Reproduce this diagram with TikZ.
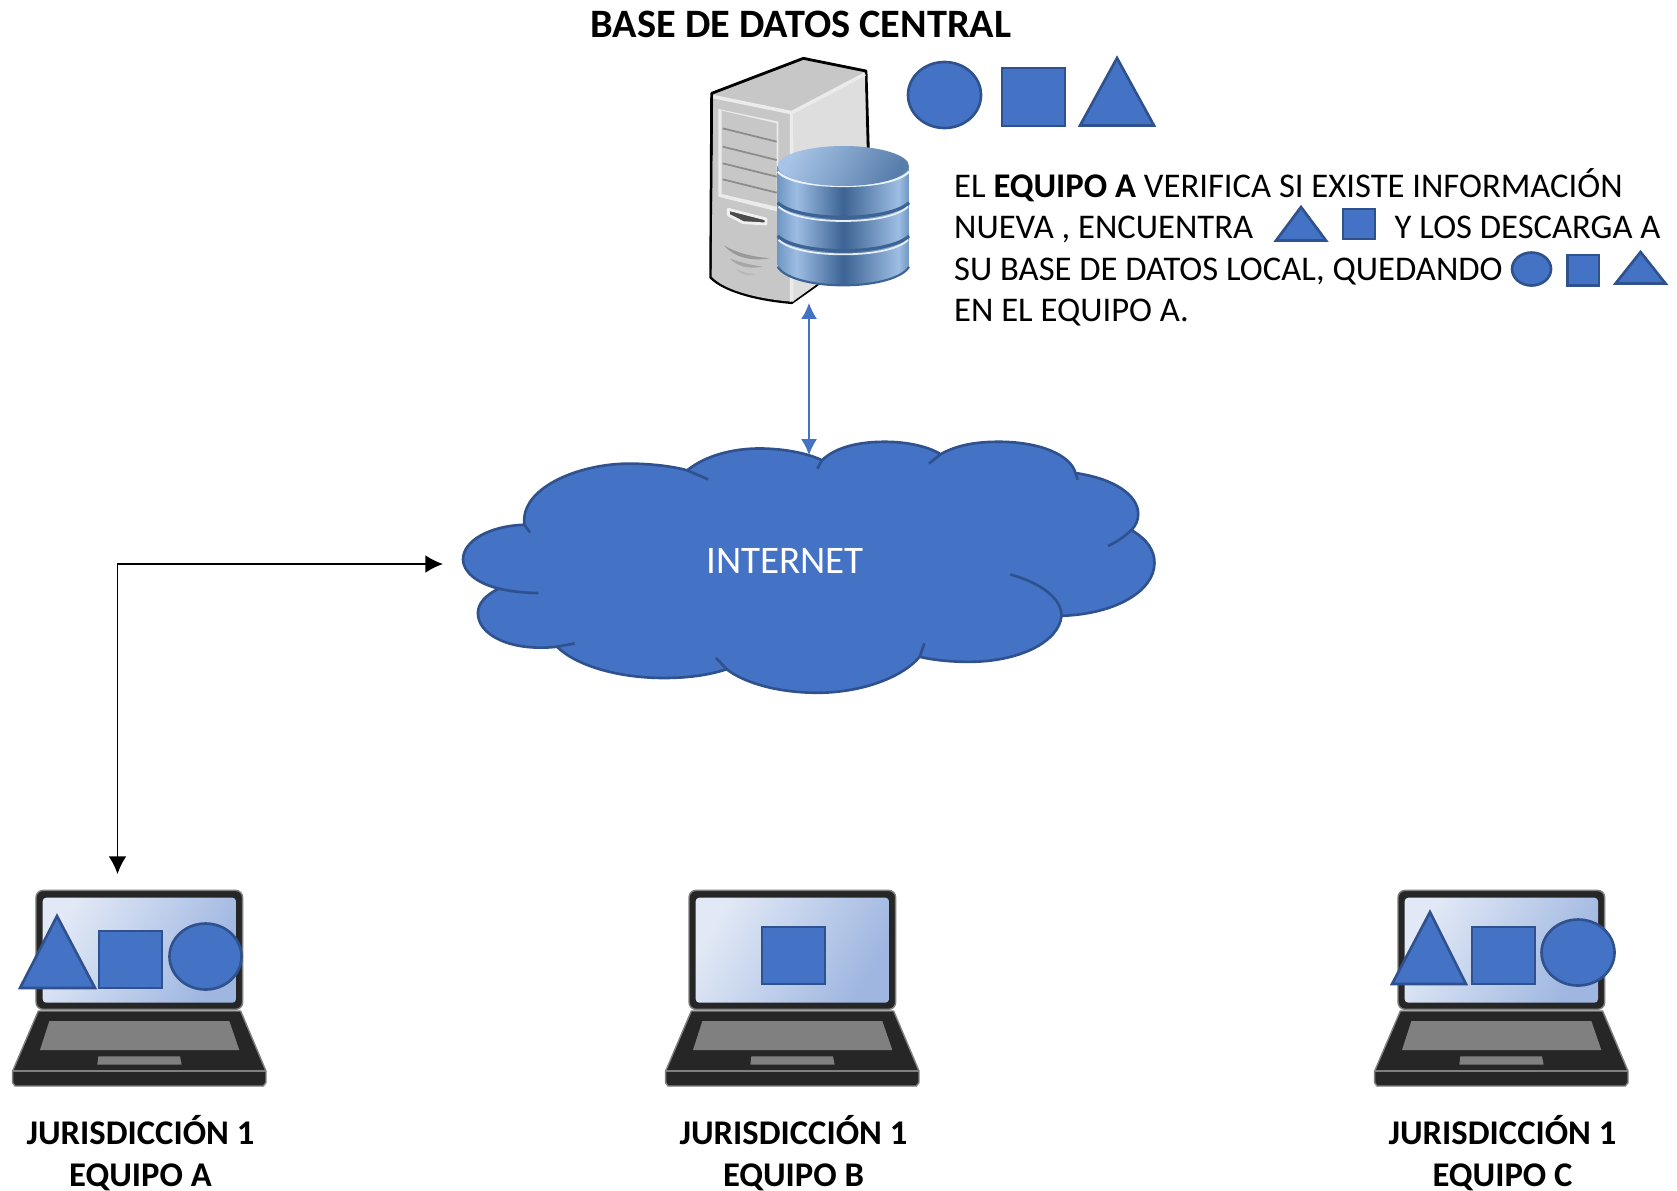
\documentclass[tikz,border=0pt]{standalone}
\usepackage{fontspec}
\usepackage{xcolor}
\usepackage{tikz}
\usetikzlibrary{arrows.meta}
\setmainfont{Carlito}
\definecolor{azulforma}{HTML}{4472C4}
\definecolor{bordeforma}{HTML}{2F528F}
\definecolor{negrolaptop}{HTML}{262626}
\definecolor{discoborde}{HTML}{6F97C3}
\definecolor{discoclaro}{HTML}{9DBDE3}
\definecolor{discooscuro}{HTML}{3C6394}
\pgfdeclarehorizontalshading{discoazul}{100bp}{color(0bp)=(discoborde); color(25bp)=(discoborde); color(32bp)=(discoclaro); color(50bp)=(discooscuro); color(71bp)=(discoclaro); color(75bp)=(discoborde); color(100bp)=(discoborde)}
\tikzset{
	forma/.style={fill=azulforma,draw=bordeforma,line width=0.75pt},
	texto/.style={anchor=base west,inner sep=0pt,font=\fontsize{9.85}{12}\selectfont},
	etiqueta/.style={align=center,inner sep=0pt,font=\fontsize{9.85}{11.9}\selectfont\bfseries},
	laptop/.pic={
		\begin{scope}[scale=0.3333]
			\draw[fill=negrolaptop,draw=gray,line width=0.4pt,rounded corners=2pt] (108,58) rectangle (728,415);
			\shade[left color=azulforma!16,right color=azulforma!52,shading angle=60,rounded corners=1pt] (128,80) rectangle (708,395);
			\draw[fill=negrolaptop,draw=gray,line width=0.4pt,line join=round] (115,420) -- (722,420) -- (798,600) -- (798,635) -- (790,645) -- (45,645) -- (38,635) -- (38,600) -- cycle;
			\draw[gray,line width=0.4pt] (38,600) -- (798,600);
			\fill[gray] (148,450) -- (688,450) -- (718,537) -- (120,537) -- cycle;
			\fill[gray] (295,556) -- (540,556) -- (545,581) -- (292,581) -- cycle;
		\end{scope}
	}
}
\begin{document}
\begin{tikzpicture}[x=0.01cm,y=-0.01cm]
	\useasboundingbox (0,0) rectangle (1677,1190);
	% Servidor
	\begin{scope}[shift={(680,40)},scale=0.3333]
		\draw[fill=black!22,draw=black,line width=0.8pt,line join=round] (95,160) -- (370,55) -- (558,93) -- (565,330) -- (565,600) -- (410,735) -- (335,788) .. controls (220,778) and (130,750) .. (92,712) -- cycle;
		\fill[black!13] (340,218) -- (555,102) -- (562,600) -- (410,733) -- (338,785) -- cycle;
		\fill[black!22] (100,170) -- (330,225) -- (332,785) .. controls (220,775) and (130,748) .. (95,710) -- cycle;
		\fill[black!8] (115,207) -- (295,245) -- (295,515) -- (115,470) -- cycle;
		\fill[black!22] (125,212) -- (290,250) -- (290,500) -- (125,462) -- cycle;
		\draw[black!8,line width=1pt] (100,170) -- (335,218) -- (555,102) (335,218) -- (335,785);
		\foreach \y in {265,320,370,418}
		\draw[black!45,line width=0.5pt] (128,\y) -- (290,\y+40);
		\draw[fill=black!70,draw=black!6,line width=0.8pt,line join=round] (145,508) -- (258,537) -- (258,552) -- (190,548) -- (145,525) -- cycle;
		\fill[black!40] (132,616) .. controls (170,640) and (220,650) .. (268,655) .. controls (210,665) and (160,650) .. cycle;
		\fill[black!35] (150,655) .. controls (180,668) and (215,675) .. (248,680) .. controls (210,688) and (170,680) .. cycle;
		\fill[black!28] (165,686) .. controls (185,695) and (205,700) .. (228,703) .. controls (200,710) and (180,702) .. cycle;
	% Base de datos
		\shade[shading=discoazul] (293,378) -- (293,675) .. controls (310,710) and (390,735) .. (490,735) .. controls (590,735) and (670,710) .. (687,675) -- (687,378) -- cycle;
		\draw[discooscuro,line width=0.6pt] (293,680) .. controls (310,712) and (390,736) .. (490,736) .. controls (590,736) and (670,712) .. (687,680);
		\foreach \y in {0,100} {
			\draw[discooscuro,line width=0.9pt] (293,488+\y) .. controls (320,515+\y) and (400,532+\y) .. (490,532+\y) .. controls (580,532+\y) and (660,515+\y) .. (687,488+\y);
			\draw[white!75!discoclaro,line width=0.5pt] (296,500+\y) .. controls (325,528+\y) and (400,543+\y) .. (490,543+\y) .. controls (580,543+\y) and (655,528+\y) .. (684,500+\y);
		}
		\draw[white!80!discoclaro,line width=0.6pt] (293,395) .. controls (320,425) and (400,438) .. (490,438) .. controls (580,438) and (660,425) .. (687,395);
		\shade[left color=discoclaro!90!white,right color=discooscuro!70!discoclaro,shading angle=60] (490,378) ellipse [x radius=197,y radius=60];
	\end{scope}
	\node (titulo) [anchor=center,inner sep=0pt,font=\fontsize{11.47}{14}\selectfont\bfseries] at (801,24) {BASE DE DATOS CENTRAL};
	% Formas arriba
	\draw[forma] (944.5,95) ellipse [x radius=36.5,y radius=33];
	\draw[forma] (1002,68) rectangle (1065,126);
	\draw[forma] (1117,58) -- (1154,125.5) -- (1080,125.5) -- cycle;
	% Texto
	\node (linea1) [texto] at (953.5,197) {EL \textbf{EQUIPO A} VERIFICA SI EXISTE INFORMACIÓN};
	\node (linea2) [texto] at (953.5,238) {NUEVA , ENCUENTRA};
	\node (linea2b) [texto] at (1394,238) {Y LOS DESCARGA A};
	\node (linea3) [texto] at (953.5,280) {SU BASE DE DATOS LOCAL, QUEDANDO};
	\node (linea4) [texto] at (953.5,321) {EN EL EQUIPO A.};
	\draw[forma] (1301,207) -- (1326,240.5) -- (1276,240.5) -- cycle;
	\draw[forma] (1343,209) rectangle (1375,239);
	\draw[forma] (1531.5,269) ellipse [x radius=19.5,y radius=16.5];
	\draw[forma] (1567.5,255) rectangle (1599,285.5);
	\draw[forma] (1640.5,252) -- (1665.5,283.5) -- (1615.5,283.5) -- cycle;
	% Nube
	\begin{scope}[shift={(450,430)},xscale=0.465,yscale=0.336]
		\draw[forma] (160,282) .. controls (150,170) and (280,100) .. (385,100) .. controls (430,100) and (480,108) .. (510,120)
		.. controls (550,75) and (610,55) .. (665,55) .. controls (720,55) and (770,70) .. (800,90)
		.. controls (830,50) and (880,35) .. (935,35) .. controls (985,35) and (1030,50) .. (1055,72)
		.. controls (1090,45) and (1130,35) .. (1180,35) .. controls (1270,35) and (1335,75) .. (1345,128)
		.. controls (1430,145) and (1480,195) .. (1480,250) .. controls (1480,268) and (1475,285) .. (1465,298)
		.. controls (1500,325) and (1515,360) .. (1515,395) .. controls (1515,480) and (1430,548) .. (1315,553)
		.. controls (1310,630) and (1225,690) .. (1115,690) .. controls (1080,690) and (1040,685) .. (1010,675)
		.. controls (970,740) and (880,782) .. (790,782) .. controls (710,782) and (635,755) .. (595,712)
		.. controls (555,730) and (510,738) .. (460,738) .. controls (360,738) and (270,700) .. (230,645)
		.. controls (130,660) and (60,610) .. (60,545) .. controls (60,515) and (78,490) .. (105,472)
		.. controls (55,455) and (28,420) .. (28,385) .. controls (28,330) and (85,285) .. (160,282) -- cycle;
		% colas de los arcos
		\draw[forma,fill=none] (160,282) -- (172,305);
		\draw[forma,fill=none] (510,120) -- (555,147);
		\draw[forma,fill=none] (800,90) -- (790,115);
		\draw[forma,fill=none] (1055,72) -- (1030,100);
		\draw[forma,fill=none] (1345,128) -- (1350,148);
		\draw[forma,fill=none] (1465,298) .. controls (1450,318) and (1435,332) .. (1415,345);
		\draw[forma,fill=none] (1315,553) .. controls (1315,500) and (1270,455) .. (1205,430);
		\draw[forma,fill=none] (1010,675) -- (1020,635);
		\draw[forma,fill=none] (595,712) -- (572,678);
		\draw[forma,fill=none] (230,645) -- (268,635);
		\draw[forma,fill=none] (105,472) .. controls (130,480) and (160,485) .. (190,485);
	\end{scope}
	\node (internet) [white,inner sep=0pt,font=\fontsize{11.1}{14}\selectfont] at (785,561) {INTERNET};
	% Laptops
	\foreach \x/\nombre in {0/A,653/B,1362/C} {
		\pic at (\x,871) {laptop};
		\node (etiqueta\nombre) [etiqueta] at (\x+140.5,1153) {JURISDICCIÓN 1\\EQUIPO \nombre};
	}
	% Formas en los equipos
	\draw[forma] (57,916) -- (95,988) -- (20,988) -- cycle;
	\draw[forma] (99,931) rectangle (162,988);
	\draw[forma] (205.5,956.5) ellipse [x radius=36,y radius=33];
	\draw[forma] (762,927) rectangle (825,984);
	\draw[forma] (1430,912) -- (1466,984) -- (1392,984) -- cycle;
	\draw[forma] (1472,927) rectangle (1535,984);
	\draw[forma] (1578,952.5) ellipse [x radius=36.5,y radius=33];
	% Conexiones
	\coordinate (servidor) at (809,303);
	\coordinate (nubearriba) at (809,455);
	\coordinate (nubeizq) at (443,564);
	\coordinate (equipoA) at (117.5,874);
	\draw[{Latex[length=4.5pt,width=4.5pt]}-{Latex[length=4.5pt,width=4.5pt]},azulforma,line width=0.4pt] (servidor) -- (nubearriba);
	\draw[{Latex[length=5pt,width=5pt]}-{Latex[length=5pt,width=5pt]},line width=0.4pt] (equipoA) |- (nubeizq);
\end{tikzpicture}
\end{document}
